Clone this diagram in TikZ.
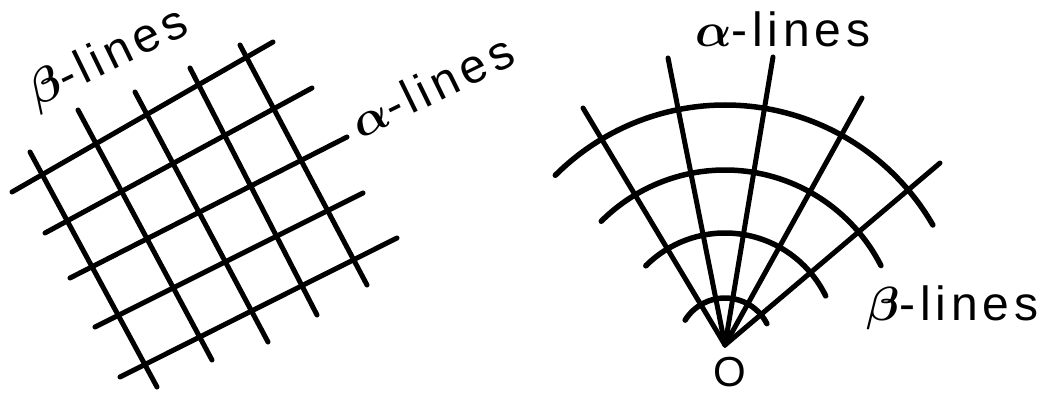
\documentclass[tikz,border=0pt]{standalone}
\usepackage{fix-cm}
\usepackage{bm}
\usepackage{fontspec}
\setmainfont{Liberation Sans}[LetterSpace=10]
\usetikzlibrary{calc}
\begin{document}
\begin{tikzpicture}[x=1pt,y=1pt,
  gridline/.style={line width=5pt, line cap=round},
  arcline/.style={line width=5.5pt, line cap=round},
  lab/.style={font=\fontsize{48}{56}\selectfont, inner sep=0pt}]
\useasboundingbox (0,0) rectangle (1043,394);
% ---------- left: orthogonal net ----------
% alpha-lines
\draw[gridline] (12,202) -- (273,352);
\draw[gridline] (45,161) -- (312,306);
\draw[gridline] (70,116) -- (347,257);
\draw[gridline] (95,67) -- (363,201);
\draw[gridline] (120,17) -- (397,156);
% beta-lines
\draw[gridline] (30,242) -- (157,7);
\draw[gridline] (78,284) -- (212,34);
\draw[gridline] (135,302) -- (268,52);
\draw[gridline] (190,326) -- (317,79);
\draw[gridline] (240,349) -- (367,109);
\node[lab, rotate=26, anchor=base west] (bl) at (36,286) {$\bm{\beta}$-lines};
\node[lab, rotate=26, anchor=base west] (al) at (360,254) {$\bm{\alpha}$-lines};
% ---------- right: centred fan ----------
\coordinate (O) at (725,49);
\draw[gridline] (O) -- (583,286);
\draw[gridline] (O) -- (668,336);
\draw[gridline] (O) -- (773,337);
\draw[gridline] (O) -- (862,296);
\draw[gridline] (O) -- (940,231);
\draw[arcline] ($(O)+(30:240)$) arc[start angle=30, end angle=135, radius=240];
\draw[arcline] ($(O)+(27:175)$) arc[start angle=27, end angle=135, radius=175];
\draw[arcline] ($(O)+(26:112)$) arc[start angle=26, end angle=135, radius=112];
\draw[arcline] ($(O)+(27:47)$) arc[start angle=27, end angle=148, radius=47];
\node[lab, anchor=base west] (ar) at (695,347) {$\bm{\alpha}$-lines};
\node[lab, anchor=base west] (br) at (866,74) {$\bm{\beta}$-lines};
\node[font=\fontsize{42}{48}\selectfont, inner sep=0pt] (o) at (730,22) {O};
\end{tikzpicture}
\end{document}
